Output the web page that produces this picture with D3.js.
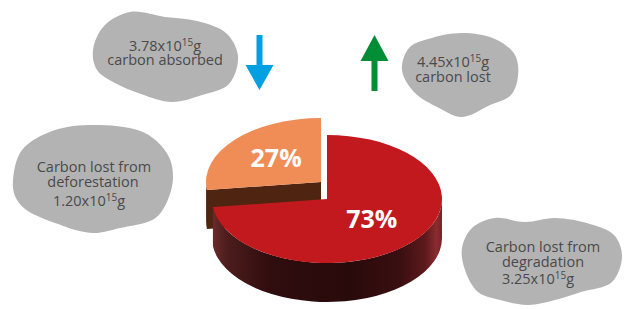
<!DOCTYPE html>
<html><head><meta charset="utf-8">
<script src="https://cdn.jsdelivr.net/npm/d3@7"></script>
<style>html,body{margin:0;padding:0;background:#fff;overflow:hidden}svg{display:block}</style>
</head><body>
<script>
// ---------- data ----------
const categories = ["Carbon lost from degradation", "Carbon lost from deforestation"];
const shares = [73, 27];                 // percent
const amounts = [3.25, 1.20];            // x10^15 g
const absorbedAmount = 3.78;             // x10^15 g
const lostAmount = 4.45;                 // x10^15 g
const topColors = ["#c1191d", "#f08d57"];
const sideColors = ["#2c0c0d", "#4f2410"];

// ---------- layout ----------
const W = 625, H = 309;
const svg = d3.select("body").append("svg").attr("width", W).attr("height", H);
const defs = svg.append("defs");
const font = "'Open Sans', 'Noto Sans', sans-serif";

const cx = 327, cy = 199, rx = 115, ry = 64, depth = 39;
const offsets = [[0, 0], [-6, -17]];

// wall gradient for red slice
const g0 = defs.append("linearGradient").attr("id", "wall0")
  .attr("gradientUnits", "userSpaceOnUse")
  .attr("x1", cx - rx).attr("x2", cx + rx).attr("y1", 0).attr("y2", 0);
[[0, "#6a2c2c"], [0.06, "#4e1d1d"], [0.25, "#300d0e"], [0.6, "#290a0b"], [0.82, "#3a0f11"], [0.93, "#5e1a1d"], [0.975, "#8a2c30"], [1, "#7a2226"]]
  .forEach(([o, c]) => g0.append("stop").attr("offset", o).attr("stop-color", c));

// ---------- clouds ----------
const cloudShapes = [
  [[93,50],[104,26],[130,12],[165,17],[197,21],[226,33],[238,56],[229,84],[202,95],[172,102],[141,94],[115,83],[97,70]],
  [[402,70],[409,48],[428,39],[462,33],[495,39],[515,55],[518,76],[511,95],[490,105],[462,117],[439,108],[414,92]],
  [[13,180],[22,150],[55,130],[100,125],[145,133],[168,155],[173,178],[166,204],[154,219],[120,228],[92,233],[55,223],[25,209],[15,196]],
  [[462,248],[472,228],[495,218],[525,222],[555,218],[590,224],[614,235],[622,256],[612,282],[581,292],[555,300],[528,305],[500,300],[478,292],[465,270]]
];
const cloudLine = d3.line().curve(d3.curveCatmullRomClosed.alpha(0.5));
svg.append("g").selectAll("path").data(cloudShapes).join("path")
  .attr("d", d => cloudLine(d)).attr("fill", "#b3b3b3");

const fmt = d3.format(".2f");
const cloudTexts = [
  { lines: [[165, 50.5, fmt(absorbedAmount) + "x10", "15", "g"], [165, 65, "carbon absorbed"]] },
  { lines: [[453, 66.5, fmt(lostAmount) + "x10", "15", "g"], [453, 81.5, "carbon lost"]] },
  { lines: [[94, 171.5, "Carbon lost from"], [93, 186.5, "deforestation"], [89, 206, fmt(amounts[1]) + "x10", "15", "g"]] },
  { lines: [[543, 251.5, "Carbon lost from"], [543, 267, "degradation"], [538, 284, fmt(amounts[0]) + "x10", "15", "g"]] }
];
const tg = svg.append("g").attr("font-family", font).attr("fill", "#4a4a4a").attr("font-size", 14.5);
cloudTexts.forEach(c => {
  c.lines.forEach(l => {
    const t = tg.append("text").attr("x", l[0]).attr("y", l[1]).attr("text-anchor", "middle");
    t.append("tspan").text(l[2]);
    if (l[3]) {
      t.append("tspan").attr("font-size", 10).attr("dy", -5).text(l[3]);
      t.append("tspan").attr("dy", 5).text(l[4]);
    }
  });
});

// ---------- arrows ----------
function arrow(x, yTail, yTip, shaftW, headW, headL) {
  const s = Math.sign(yTip - yTail);
  const yb = yTip - s * headL;
  return `M${x - shaftW/2},${yTail}L${x + shaftW/2},${yTail}L${x + shaftW/2},${yb}L${x + headW/2},${yb}L${x},${yTip}L${x - headW/2},${yb}L${x - shaftW/2},${yb}Z`;
}
svg.append("path").attr("d", arrow(259.5, 35, 90, 6, 28, 25)).attr("fill", "#00a0e3");
svg.append("path").attr("d", arrow(374.5, 91, 35, 6, 28, 26)).attr("fill", "#008d36");

// ---------- 3D pie ----------
const pie = d3.pie().sort(null).startAngle(0).endAngle(2 * Math.PI);
const arcs = pie(shares).map((a, i) => ({ ...a, i, ox: cx + offsets[i][0], oy: cy + offsets[i][1] }));
const P = (a, ox, oy, dz = 0) => [ox + rx * Math.sin(a), oy - ry * Math.cos(a) + dz];
const pj = p => p[0].toFixed(2) + "," + p[1].toFixed(2);

const order = arcs.slice().sort((a, b) => {
  const ma = (a.startAngle + a.endAngle) / 2, mb = (b.startAngle + b.endAngle) / 2;
  return (a.oy - ry * Math.cos(ma)) - (b.oy - ry * Math.cos(mb));
});
const pg = svg.append("g");
order.forEach(a => {
  const g = pg.append("g");
  const { startAngle: a0, endAngle: a1, ox, oy, i } = a;
  const side = i === 0 ? "url(#wall0)" : sideColors[i];
  if (Math.sin(a0) < -1e-6) {
    const p = P(a0, ox, oy);
    g.append("path").attr("fill", sideColors[i])
      .attr("d", `M${pj([ox, oy])}L${pj(p)}L${pj([p[0], p[1] + depth])}L${pj([ox, oy + depth])}Z`);
  }
  if (Math.sin(a1) > 1e-6) {
    const p = P(a1, ox, oy);
    g.append("path").attr("fill", sideColors[i])
      .attr("d", `M${pj([ox, oy])}L${pj(p)}L${pj([p[0], p[1] + depth])}L${pj([ox, oy + depth])}Z`);
  }
  const s = Math.max(a0, Math.PI / 2), e = Math.min(a1, 3 * Math.PI / 2);
  if (e > s) {
    g.append("path").attr("fill", side)
      .attr("d", `M${pj(P(s, ox, oy))}A${rx},${ry} 0 0 1 ${pj(P(e, ox, oy))}L${pj(P(e, ox, oy, depth))}A${rx},${ry} 0 0 0 ${pj(P(s, ox, oy, depth))}Z`);
  }
  const large = (a1 - a0) > Math.PI ? 1 : 0;
  g.append("path").attr("fill", topColors[i])
    .attr("d", `M${pj([ox, oy])}L${pj(P(a0, ox, oy))}A${rx},${ry} 0 ${large} 1 ${pj(P(a1, ox, oy))}Z`);
});

// labels
pg.append("g").selectAll("text").data(arcs).join("text")
  .attr("x", d => d.ox + rx * 0.52 * Math.sin((d.startAngle + d.endAngle) / 2))
  .attr("y", d => d.oy - ry * 0.52 * Math.cos((d.startAngle + d.endAngle) / 2) - 3)
  .attr("text-anchor", "middle").attr("dominant-baseline", "central")
  .attr("font-family", font).attr("font-weight", 700).attr("font-size", 25)
  .attr("fill", "#fff").text(d => d.data + "%");
</script>
</body></html>
